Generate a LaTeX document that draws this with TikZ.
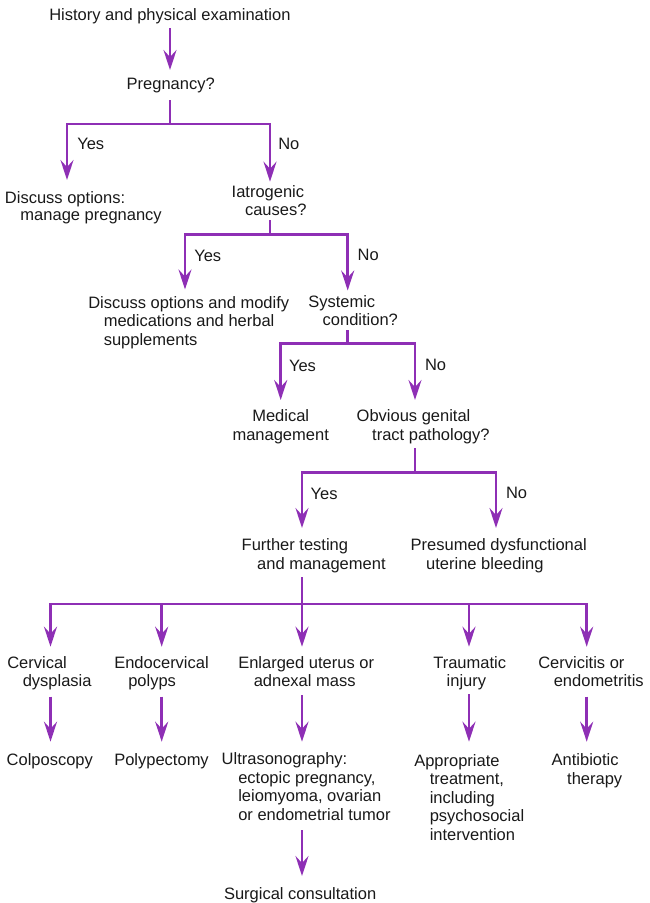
\documentclass[tikz,border=0pt]{standalone}
\usepackage{fontspec}
\setmainfont{Liberation Sans}
\usepackage{xcolor}
\usetikzlibrary{arrows.meta}
\definecolor{vio}{RGB}{142,47,181}
\newcommand{\fs}{\fontsize{16.5}{18.5}\selectfont}
\newcommand{\hind}{\hspace*{15.5pt}}

\begin{document}
\begin{tikzpicture}[x=1pt,y=-1pt,
  txt/.style={anchor=base west, inner sep=0pt, outer sep=0pt, align=left, font=\fs, text=black!90},
  ln/.style={draw=vio, line width=2.6pt},
  arr/.style={ln, -{Stealth[length=20pt,width=13pt,inset=7pt]}}]
\useasboundingbox (0,0) rectangle (649,903);

% questions and outcomes (placed at the baseline of the last line)
\node[txt] (hist) at (49.3,20.7) {History and physical examination};
\node[txt] (preg) at (126.7,89.3) {Pregnancy?};
\node[txt] (yes1) at (77.3,149.3) {Yes};
\node[txt] (no1) at (278.3,149.3) {No};
\node[txt] (disc) at (5,220.7) {Discuss options:\\[-1pt]\hind manage pregnancy};
\node[txt] (iatro) at (231.7,215) {Iatrogenic\\[-1pt]\hspace*{13.3pt}causes?};
\node[txt] (yes2) at (194.3,261.7) {Yes};
\node[txt] (no2) at (357.7,260) {No};
\node[txt] (mod) at (88.3,345) {Discuss options and modify\\\hind medications and herbal\\\hind supplements};
\node[txt] (sys) at (308.3,325.7) {Systemic\\\hspace*{14.4pt}condition?};
\node[txt] (yes3) at (289,371.7) {Yes};
\node[txt] (no3) at (425,370) {No};
\node[txt, anchor=base, align=center] (med) at (280.7,440) {Medical\\management};
\node[txt] (obv) at (356.7,440) {Obvious genital\\\hind tract pathology?};
\node[txt] (yes4) at (310.7,499.3) {Yes};
\node[txt] (no4) at (506,498.3) {No};
\node[txt] (fur) at (241.7,569.3) {Further testing\\\hind and management};
\node[txt] (pres) at (410.7,569.3) {Presumed dysfunctional\\\hind uterine bleeding};

% findings
\node[txt] (cerv) at (7.3,686.7) {Cervical\\\hind dysplasia};
\node[txt] (endo) at (114.3,686.7) {Endocervical\\\hspace*{14pt}polyps};
\node[txt] (enl) at (238.3,686.7) {Enlarged uterus or\\\hind adnexal mass};
\node[txt] (trau) at (433.3,686.7) {Traumatic\\\hspace*{13.4pt}injury};
\node[txt] (cvt) at (538.3,686.7) {Cervicitis or\\\hind endometritis};

% treatment
\node[txt] (colp) at (6.7,765) {Colposcopy};
\node[txt] (poly) at (114.3,765) {Polypectomy};
\node[txt] (ultra) at (221.7,820) {Ultrasonography:\\\hspace*{16.6pt}ectopic pregnancy,\\\hspace*{16.6pt}leiomyoma, ovarian\\\hspace*{16.6pt}or endometrial tumor};
\node[txt] (appr) at (414.3,840) {Appropriate\\\hind treatment,\\\hind including\\\hind psychosocial\\\hind intervention};
\node[txt] (anti) at (551.7,784.3) {Antibiotic\\\hind therapy};
\node[txt] (surg) at (224,899) {Surgical consultation};

% branch points
\coordinate (j1) at (170,124);
\coordinate (j2) at (270,234.3);
\coordinate (j3) at (347.7,343.3);
\coordinate (j4) at (415,472.7);
\coordinate (j5) at (302,604);

\draw[arr] ([xshift=120.7pt,yshift=-7.6pt]hist.base west) -- ([xshift=43.3pt,yshift=19.3pt]preg.base west);

\draw[ln] ([xshift=43.3pt,yshift=-10.7pt]preg.base west) -- (j1);
\draw[arr] (j1) -| ([xshift=62pt,yshift=40.7pt]disc.base west);
\draw[arr] (j1) -| ([xshift=38.3pt,yshift=33.3pt]iatro.base west);

\draw[ln] ([xshift=38.3pt,yshift=-5pt]iatro.base west) -- (j2);
\draw[arr] (j2) -| ([xshift=96.7pt,yshift=55.5pt]mod.base west);
\draw[arr] (j2) -| ([xshift=39.4pt,yshift=35.2pt]sys.base west);

\draw[ln] ([xshift=39.4pt,yshift=-4.3pt]sys.base west) -- (j3);
\draw[arr] (j3) -| ([yshift=40pt]med.base);
\draw[arr] (j3) -| ([xshift=58.3pt,yshift=40pt]obv.base west);

\draw[ln] ([xshift=58.3pt,yshift=-8pt]obv.base west) -- (j4);
\draw[arr] (j4) -| ([xshift=60.3pt,yshift=41.3pt]fur.base west);
\draw[arr] (j4) -| ([xshift=85.3pt,yshift=41.3pt]pres.base west);

\draw[ln] ([xshift=60.3pt,yshift=-7.7pt]fur.base west) -- (j5);
\draw[arr] (j5) -| ([xshift=43.2pt,yshift=40pt]cerv.base west);
\draw[arr] (j5) -| ([xshift=47.4pt,yshift=40pt]endo.base west);
\draw[arr] (j5) -| ([xshift=63.7pt,yshift=40pt]enl.base west);
\draw[arr] (j5) -| ([xshift=35.7pt,yshift=40pt]trau.base west);
\draw[arr] (j5) -| ([xshift=48.4pt,yshift=40pt]cvt.base west);

\draw[arr] ([xshift=43.2pt,yshift=-10pt]cerv.base west) -- ([xshift=43.8pt,yshift=23.3pt]colp.base west);
\draw[arr] ([xshift=47.4pt,yshift=-10pt]endo.base west) -- ([xshift=47.4pt,yshift=23.3pt]poly.base west);
\draw[arr] ([xshift=63.7pt,yshift=-8.3pt]enl.base west) -- ([xshift=80.3pt,yshift=78.3pt]ultra.base west);
\draw[arr] ([xshift=35.7pt,yshift=-7.3pt]trau.base west) -- ([xshift=54.7pt,yshift=98.3pt]appr.base west);
\draw[arr] ([xshift=48.4pt,yshift=-10pt]cvt.base west) -- ([xshift=35pt,yshift=42.6pt]anti.base west);
\draw[arr] ([xshift=80.3pt,yshift=-10pt]ultra.base west) -- ([xshift=78pt,yshift=23pt]surg.base west);

\end{tikzpicture}
\end{document}
